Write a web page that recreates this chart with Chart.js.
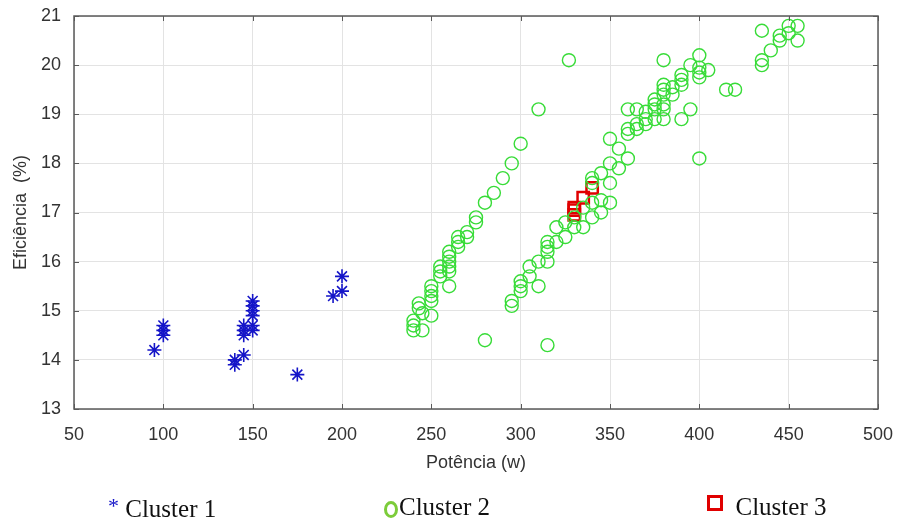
<!DOCTYPE html>
<html lang="pt-BR">
<head>
    <meta charset="UTF-8">
    <title>Eficiência x Potência</title>
    <script src="https://cdn.jsdelivr.net/npm/chart.js"></script>
    <style>
        body { margin: 0; background: #fff; }
        .wrap { position: relative; width: 897px; height: 524px; overflow: hidden; }
        .legend-item { position: absolute; top: 493px; font-family: "Liberation Serif", "Times New Roman", serif; font-size: 25px; color: #111; white-space: nowrap; }
        .star { color: #1515c8; font-size: 22px; vertical-align: 4px; }
        .ring { display: inline-block; width: 8px; height: 11px; border: 3.5px solid #7ccc3a; border-radius: 50%; vertical-align: -3px; margin-right: 1px; }
        .square { display: inline-block; width: 10px; height: 10px; border: 3px solid #e00000; vertical-align: 4px; }
    </style>
</head>
<body>
    <div class="wrap">
        <canvas id="scatterChart" width="897" height="524"></canvas>
        <div class="legend-item" style="left:108px"><span class="star">*</span> Cluster 1</div>
        <div class="legend-item" style="left:384px"><span class="ring"></span>Cluster 2</div>
        <div class="legend-item" style="left:707px"><span class="square"></span>&nbsp; Cluster 3</div>
    </div>

    <script>
        // Dados
        const xTicks = [50, 100, 150, 200, 250, 300, 350, 400, 450, 500];
        const yTicks = [13, 14, 15, 16, 17, 18, 19, 20, 21];

        const cluster1X = [95, 100, 100, 100, 140, 140, 145, 145, 145, 145, 150, 150, 150, 150, 150, 150, 175, 195, 200, 200];
        const cluster1Y = [14.2, 14.7, 14.6, 14.5, 14.0, 13.9, 14.1, 14.7, 14.6, 14.5, 15.2, 15.1, 15.0, 14.9, 14.7, 14.6, 13.7, 15.3, 15.7, 15.4];

        const cluster2X = [
            240, 240, 240, 243, 243, 245, 245, 250, 250, 250, 250, 250,
            255, 255, 255, 260, 260, 260, 260, 260, 260, 265, 265, 265,
            270, 270, 275, 275, 280, 285, 290, 295, 300, 310, 327, 280, 315,
            295, 295, 300, 300, 300, 305, 305, 310, 310, 315, 315, 315, 315,
            320, 320, 325, 325, 330, 330, 335, 335, 340, 340, 340, 340,
            345, 345, 345, 350, 350, 350, 350, 355, 355,
            360, 360, 360, 360, 365, 365, 365, 370, 370, 370,
            375, 375, 375, 375, 380, 380, 380, 380, 380, 380, 380,
            385, 385, 390, 390, 390, 390, 395, 395,
            400, 400, 400, 400, 400, 405, 415, 420,
            435, 435, 435, 440, 445, 445, 450, 450, 455, 455
        ];
        const cluster2Y = [
            14.8, 14.7, 14.6, 15.15, 15.05, 14.95, 14.6, 15.5, 15.4, 15.3, 15.2, 14.9,
            15.9, 15.7, 15.8, 16.2, 16.1, 16.0, 15.9, 15.8, 15.5, 16.5, 16.4, 16.3,
            16.6, 16.5, 16.9, 16.8, 17.2, 17.4, 17.7, 18.0, 18.4, 19.1, 20.1, 14.4, 14.3,
            15.2, 15.1, 15.6, 15.5, 15.4, 15.9, 15.7, 15.5, 16.0, 16.4, 16.3, 16.2, 16.0,
            16.7, 16.4, 16.8, 16.5, 16.7, 16.9, 16.7, 17.1, 16.9, 17.2, 17.6, 17.7,
            17.0, 17.25, 17.8, 17.2, 17.6, 18.0, 18.5, 17.9, 18.3,
            18.1, 18.6, 18.7, 19.1, 18.7, 18.8, 19.1, 18.8, 18.9, 19.05,
            18.9, 19.1, 19.2, 19.3, 18.9, 19.1, 19.2, 19.4, 19.5, 19.6, 20.1,
            19.4, 19.55, 18.9, 19.6, 19.7, 19.8, 19.1, 20.0,
            18.1, 19.75, 19.85, 19.95, 20.2, 19.9, 19.5, 19.5,
            20.7, 20.1, 20.0, 20.3, 20.6, 20.5, 20.8, 20.65, 20.8, 20.5
        ];

        const cluster3X = [330, 330, 330, 335, 340];
        const cluster3Y = [16.95, 17.05, 17.1, 17.3, 17.5];

        function toPoints(xs, ys) {
            return xs.map((x, i) => ({ x: x, y: ys[i] }));
        }

        // Moldura da área do gráfico + marcas de escala para dentro (estilo MATLAB)
        const boxPlugin = {
            id: 'box',
            afterDraw(chart) {
                const { ctx, chartArea, scales } = chart;
                const { left, right, top, bottom } = chartArea;
                ctx.save();
                ctx.strokeStyle = '#5a5a5a';
                ctx.lineWidth = 1;
                ctx.beginPath();
                xTicks.forEach(v => {
                    const px = Math.round(scales.x.getPixelForValue(v)) + 0.5;
                    ctx.moveTo(px, bottom); ctx.lineTo(px, bottom - 5);
                    ctx.moveTo(px, top); ctx.lineTo(px, top + 5);
                });
                yTicks.forEach(v => {
                    const py = Math.round(scales.y.getPixelForValue(v)) + 0.5;
                    ctx.moveTo(left, py); ctx.lineTo(left + 5, py);
                    ctx.moveTo(right, py); ctx.lineTo(right - 5, py);
                });
                ctx.stroke();
                ctx.lineWidth = 1.5;
                ctx.strokeRect(left, top, right - left, bottom - top);
                ctx.restore();
            }
        };

        const tickFont = { family: '"Liberation Sans", Arial, sans-serif', size: 18 };
        const titleFont = { family: '"Liberation Sans", Arial, sans-serif', size: 18 };

        new Chart(document.getElementById('scatterChart'), {
            type: 'scatter',
            data: {
                datasets: [
                    {
                        label: 'Cluster 1',
                        data: toPoints(cluster1X, cluster1Y),
                        pointStyle: 'star',
                        pointRadius: 7,
                        borderColor: '#1515c8',
                        backgroundColor: '#1515c8',
                        borderWidth: 1.6
                    },
                    {
                        label: 'Cluster 2',
                        data: toPoints(cluster2X, cluster2Y),
                        pointStyle: 'circle',
                        pointRadius: 6.5,
                        borderColor: '#38dc38',
                        backgroundColor: 'rgba(0,0,0,0)',
                        borderWidth: 1.4
                    },
                    {
                        label: 'Cluster 3',
                        data: toPoints(cluster3X, cluster3Y),
                        pointStyle: 'rect',
                        pointRadius: 8,
                        borderColor: '#e00000',
                        backgroundColor: 'rgba(0,0,0,0)',
                        borderWidth: 2.5
                    }
                ]
            },
            options: {
                responsive: false,
                animation: false,
                devicePixelRatio: 1,
                layout: { padding: { left: 0, right: 19, top: 16, bottom: 50 } },
                plugins: {
                    legend: { display: false },
                    tooltip: { enabled: false }
                },
                scales: {
                    x: {
                        type: 'linear',
                        min: 50,
                        max: 500,
                        afterBuildTicks: (axis) => { axis.ticks = xTicks.map(v => ({ value: v })); },
                        afterFit: (axis) => { axis.height = 65; axis.paddingLeft = 0; axis.paddingRight = 0; },
                        ticks: { font: tickFont, color: '#333333', padding: 15 },
                        grid: { color: '#e3e3e3', lineWidth: 1, drawTicks: false },
                        border: { display: false },
                        title: { display: true, text: 'Potência (w)', font: titleFont, color: '#333333', padding: 0 }
                    },
                    y: {
                        type: 'linear',
                        min: 13,
                        max: 21,
                        afterBuildTicks: (axis) => { axis.ticks = yTicks.map(v => ({ value: v })); },
                        afterFit: (axis) => { axis.width = 74; axis.paddingTop = 0; axis.paddingBottom = 0; },
                        ticks: { font: tickFont, color: '#333333', padding: 13 },
                        grid: { color: '#e3e3e3', lineWidth: 1, drawTicks: false },
                        border: { display: false },
                        title: { display: true, text: 'Eficiência  (%)', font: titleFont, color: '#333333', padding: { top: 10, bottom: 0 } }
                    }
                }
            },
            plugins: [boxPlugin]
        });
    </script>
</body>
</html>
